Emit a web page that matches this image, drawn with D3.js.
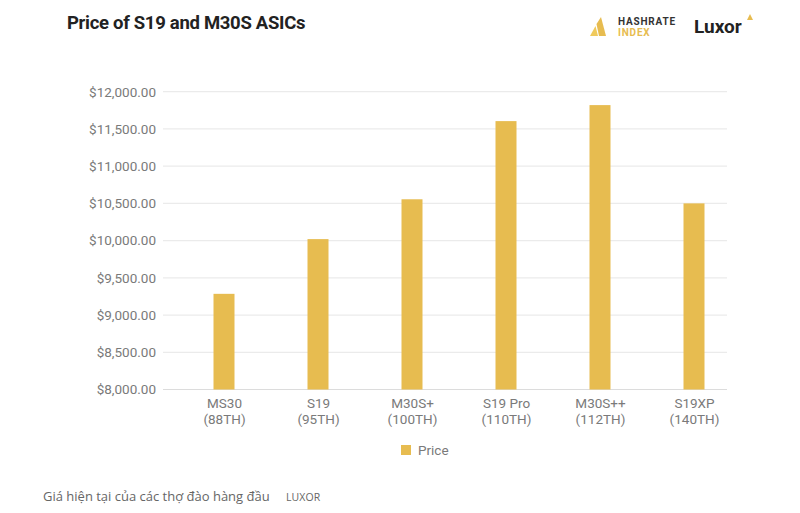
<!DOCTYPE html>
<html>
<head>
<meta charset="utf-8">
<script src="https://cdn.jsdelivr.net/npm/d3@7"></script>
<style>
  html, body { margin: 0; padding: 0; background: #fff; }
  svg { display: block; }
</style>
</head>
<body>
<svg id="chart" width="800" height="513"></svg>
<script>
const categories = ["MS30\n(88TH)", "S19\n(95TH)", "M30S+\n(100TH)", "S19 Pro\n(110TH)", "M30S++\n(112TH)", "S19XP\n(140TH)"];
const prices = [9285, 10020, 10555, 11605, 11820, 10500];
const yTicks = [8000, 8500, 9000, 9500, 10000, 10500, 11000, 11500, 12000];
const seriesName = "Price";
const title = "Price of S19 and M30S ASICs";
const caption = "Giá hiện tại của các thợ đào hàng đầu";
const captionSource = "LUXOR";

const barColor = "#E7BC50";
const svg = d3.select("#chart");

const x = d3.scalePoint().domain(categories).range([177, 741]).padding(0.5);
const y = d3.scaleLinear().domain([8000, 12000]).range([389.5, 91.7]);

// gridlines
const grid = svg.append("g");
grid.selectAll("line").data(yTicks).join("line")
  .attr("x1", 163).attr("x2", 727)
  .attr("y1", d => y(d)).attr("y2", d => y(d))
  .attr("stroke", d => d === 8000 ? "#dcdcdc" : "#ebebeb")
  .attr("stroke-width", 1.2);

// y axis
const fmt = d3.format("$,.2f");
const yAxis = svg.append("g").attr("transform", "translate(156,0)")
  .call(d3.axisLeft(y).tickValues(yTicks).tickFormat(fmt).tickSize(0).tickPadding(0));
yAxis.select(".domain").remove();
yAxis.selectAll("text")
  .attr("font-family", "Roboto, sans-serif").attr("font-size", 13.5)
  .attr("fill", "#7a7a7a");

// bars
const bw = 21;
svg.append("g").selectAll("rect").data(prices).join("rect")
  .attr("x", (d, i) => x(categories[i]) - bw / 2)
  .attr("width", bw)
  .attr("y", d => y(d))
  .attr("height", d => y(8000) - y(d))
  .attr("fill", barColor);

// x axis labels
const xAxis = svg.append("g").attr("transform", "translate(0,389.5)")
  .call(d3.axisBottom(x).tickSize(0).tickFormat(""));
xAxis.select(".domain").remove();
xAxis.selectAll(".tick").each(function(d) {
  const lines = d.split("\n");
  const t = d3.select(this).append("text")
    .attr("text-anchor", "middle")
    .attr("font-family", "Roboto, sans-serif").attr("font-size", 13.5)
    .attr("fill", "#7a7a7a");
  lines.forEach((l, i) => {
    t.append("tspan").attr("x", 0).attr("y", 18 + i * 16).text(l);
  });
});

// legend
svg.append("rect").attr("x", 401).attr("y", 445).attr("width", 10).attr("height", 10).attr("fill", barColor);
svg.append("text").attr("x", 418).attr("y", 455)
  .attr("font-family", "Roboto, sans-serif").attr("font-size", 13.5)
  .attr("fill", "#7a7a7a").text(seriesName);

// title
svg.append("text").attr("x", 67).attr("y", 29)
  .attr("font-family", "Roboto, sans-serif").attr("font-weight", "bold")
  .attr("font-size", 18.5).attr("fill", "#222")
  .attr("letter-spacing", -0.3)
  .text(title);

// Hashrate Index logo
const logo = svg.append("g");
logo.append("path").attr("d", "M590,36 L595.5,26 L598,36 Z").attr("fill", "#F0CA5C");
logo.append("path").attr("d", "M596.5,24 L601,17 L606,36 L599,36 Z").attr("fill", "#E7BC50");
logo.append("text").attr("x", 618).attr("y", 25)
  .attr("font-family", "Roboto, sans-serif").attr("font-weight", "bold")
  .attr("font-size", 10).attr("letter-spacing", 0.8).attr("fill", "#333")
  .text("HASHRATE");
logo.append("text").attr("x", 618).attr("y", 36)
  .attr("font-family", "Roboto, sans-serif").attr("font-weight", "bold")
  .attr("font-size", 10).attr("letter-spacing", 0.8).attr("fill", "#E7BC50")
  .text("INDEX");

// Luxor logo
svg.append("text").attr("x", 694).attr("y", 33)
  .attr("font-family", "Roboto, sans-serif").attr("font-weight", "bold")
  .attr("font-size", 19).attr("fill", "#222").text("Luxor");
svg.append("path").attr("d", "M747,20 L750,14 L753,20 Z").attr("fill", "#E7BC50");

// caption
svg.append("text").attr("x", 43).attr("y", 501)
  .attr("font-family", "'Open Sans', sans-serif").attr("font-size", 13)
  .attr("fill", "#666").text(caption);
svg.append("text").attr("x", 286).attr("y", 501)
  .attr("font-family", "'Open Sans', sans-serif").attr("font-size", 10.5)
  .attr("letter-spacing", 0.1)
  .attr("fill", "#666").text(captionSource);
</script>
</body>
</html>
